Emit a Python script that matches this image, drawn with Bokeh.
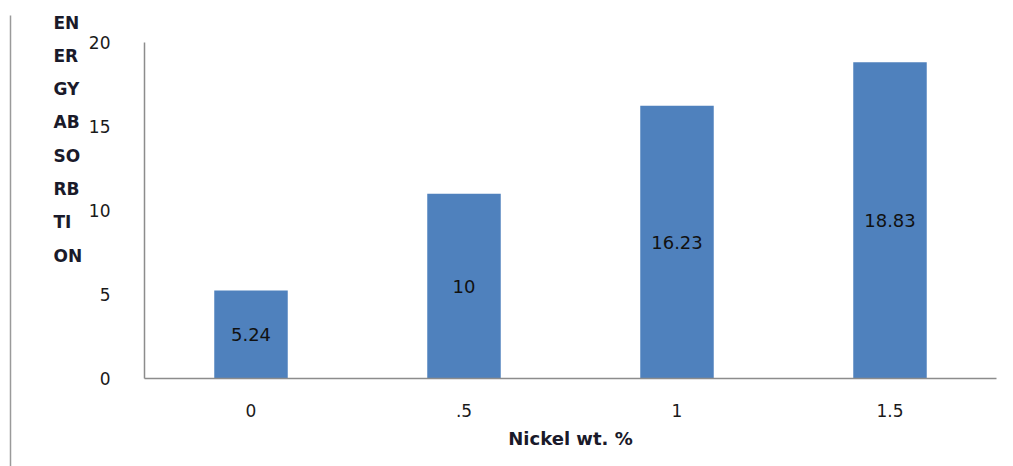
from bokeh.plotting import figure
from bokeh.models import ColumnDataSource, Range1d, FixedTicker, LabelSet
from bokeh.core.properties import value
from bokeh.embed import file_html
from bokeh.resources import INLINE

categories = ["0", ".5", "1", "1.5"]
values = [5.24, 11.0, 16.23, 18.83]
bar_labels = ["5.24", "10", "16.23", "18.83"]
y_ticks = [0, 5, 10, 15, 20]
y_title_lines = ["EN", "ER", "GY", "AB", "SO", "RB", "TI", "ON"]
x_title = "Nickel wt. %"

FONT = "DejaVu Sans"
W, H = 1013, 466
FL, FR, FT, FB = 144, 996, 42, 378   # frame edges in pixels
YMAX = 20

xpos = [i + 0.5 for i in range(len(categories))]
src = ColumnDataSource(dict(x=xpos, top=values, mid=[v / 2 for v in values], lab=bar_labels))

p = figure(width=W, height=H, output_backend="svg", toolbar_location=None,
           x_range=Range1d(0, len(categories)), y_range=Range1d(0, YMAX),
           min_border_left=FL, min_border_right=W - FR, min_border_top=FT, min_border_bottom=H - FB)
p.outline_line_color = None
p.xgrid.visible = False
p.ygrid.visible = False
p.background_fill_color = "white"
p.border_fill_color = "white"

p.vbar(x="x", top="top", bottom=0, width=0.345, source=src, fill_color="#4F81BD", line_color=None)

labels = LabelSet(x="x", y="mid", text="lab", source=src, text_align="center", text_baseline="middle",
                  text_font=value(FONT), text_font_size="18px", text_color="#111111")
p.add_layout(labels)

p.xaxis.ticker = FixedTicker(ticks=xpos)
p.xaxis.major_label_overrides = {x: c for x, c in zip(xpos, categories)}
p.yaxis.ticker = FixedTicker(ticks=y_ticks)
for ax in (p.xaxis[0], p.yaxis[0]):
    ax.axis_line_color = "#8c8c8c"
    ax.axis_line_width = 1.5
    ax.major_tick_line_color = None
    ax.minor_tick_line_color = None
    ax.major_label_text_font = FONT
    ax.major_label_text_font_size = "17px"
    ax.major_label_text_color = "#1a1a1a"
p.yaxis.major_label_standoff = 28
p.xaxis.major_label_standoff = 19
p.xaxis.axis_label = x_title
p.xaxis.axis_label_text_font = FONT
p.xaxis.axis_label_text_font_style = "bold"
p.xaxis.axis_label_text_font_size = "18px"
p.xaxis.axis_label_text_color = "#1a1a2a"
p.xaxis.axis_label_standoff = 8

# helpers: convert page pixels to data coordinates (for decorations outside the frame)
def dx(px):
    return (px - FL) / (FR - FL) * len(categories)

def dy(py):
    return (FB - py) / (FB - FT) * YMAX

# stacked y-axis title, drawn outside the frame
title_y = [dy(22 + 33.3 * i) for i in range(len(y_title_lines))]
p.text(x=[dx(53)] * len(y_title_lines), y=title_y, text=y_title_lines, text_align="left",
       text_baseline="middle", text_font=value(FONT), text_font_style="bold",
       text_font_size="17px", text_color="#1a1a2a", level="overlay")
# page border line at the left
p.segment(x0=[dx(10)], y0=[dy(15)], x1=[dx(10)], y1=[dy(H)], line_color="#9a9a9a",
          line_width=1.5, level="overlay")

open("out.html", "w").write(file_html(p, INLINE))
